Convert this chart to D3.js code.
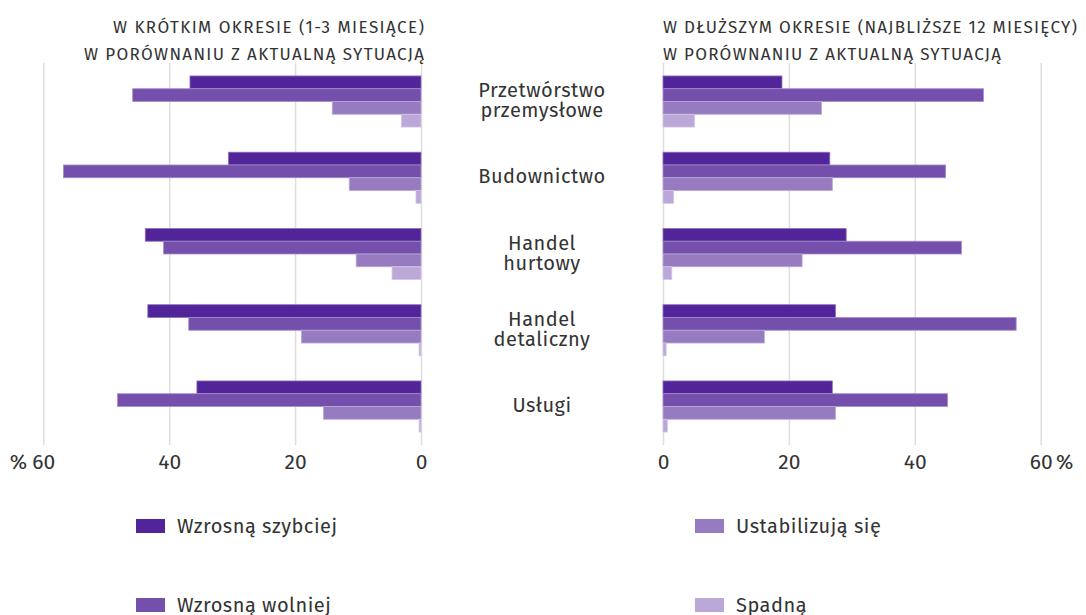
<!DOCTYPE html>
<html>
<head>
<meta charset="utf-8">
<script src="https://cdn.jsdelivr.net/npm/d3@7"></script>
<style>
  body { margin: 0; background: #fff; }
  svg text { font-family: "Fira Sans", "Open Sans", sans-serif; fill: #333; }
</style>
</head>
<body>
<div id="chart"></div>
<script>
// categories (two-line labels split with \n)
const categories = ["Przetwórstwo\nprzemysłowe", "Budownictwo", "Handel\nhurtowy", "Handel\ndetaliczny", "Usługi"];
const seriesNames = ["Wzrosną szybciej", "Wzrosną wolniej", "Ustabilizują się", "Spadną"];

// short term (1-3 months), %
const shortFaster = [36.7, 30.6, 43.8, 43.4, 35.6];
const shortSlower = [45.8, 56.8, 40.9, 36.9, 48.2];
const shortStable = [14.1, 11.4, 10.3, 19.0, 15.5];
const shortFall   = [3.1, 0.8, 4.6, 0.3, 0.3];

// longer term (next 12 months), %
const longFaster = [18.9, 26.5, 29.1, 27.4, 26.9];
const longSlower = [50.9, 44.9, 47.4, 56.1, 45.2];
const longStable = [25.2, 26.9, 22.1, 16.1, 27.4];
const longFall   = [5.0, 1.7, 1.4, 0.5, 0.7];

const tickValues = [0, 20, 40, 60];
const colors = ["#51249a", "#7450ac", "#967bc0", "#bca8d8"];

const width = 1086;
const height = 615;

const svg = d3.select("#chart").append("svg")
  .attr("width", width)
  .attr("height", height);

const xLeft = d3.scaleLinear().domain([0, 60]).range([421, 43.3]);
const xRight = d3.scaleLinear().domain([0, 60]).range([663, 1040.7]);

const y = d3.scaleBand()
  .domain(categories)
  .range([63, 445])
  .paddingInner(0.33)
  .paddingOuter(0.17);

const ySub = d3.scaleBand()
  .domain(d3.range(seriesNames.length))
  .range([0, y.bandwidth()]);

// gridlines + tick labels
function drawAxis(scale) {
  const g = svg.append("g")
    .attr("transform", "translate(0,445)")
    .call(d3.axisBottom(scale).tickValues(tickValues).tickSize(-(445 - 63)).tickPadding(9));
  g.select(".domain").remove();
  g.selectAll(".tick line").attr("stroke", "#dedede").attr("stroke-width", 1.5);
  g.selectAll(".tick text")
    .style("font-size", "21px")
    .attr("fill", "#333");
  return g;
}
drawAxis(xLeft);
drawAxis(xRight);

svg.append("text")
  .attr("x", 27).attr("y", 469)
  .attr("text-anchor", "end")
  .style("font-size", "21px")
  .text("%");
svg.append("text")
  .attr("x", 1056).attr("y", 469)
  .style("font-size", "21px")
  .text("%");

function drawBars(scale, series) {
  const g = svg.append("g");
  series.forEach((vals, si) => {
    g.selectAll(null)
      .data(vals)
      .enter()
      .append("rect")
        .attr("x", d => Math.min(scale(0), scale(d)))
        .attr("y", (d, i) => y(categories[i]) + ySub(si))
        .attr("width", d => Math.abs(scale(d) - scale(0)))
        .attr("height", ySub.bandwidth())
        .attr("fill", colors[si])
        .attr("stroke", d3.interpolateRgb(colors[si], "#fff")(0.35))
        .attr("stroke-width", 0.8);
  });
}
drawBars(xLeft, [shortFaster, shortSlower, shortStable, shortFall]);
drawBars(xRight, [longFaster, longSlower, longStable, longFall]);

// category labels in the middle
categories.forEach(c => {
  const lines = c.split("\n");
  const cy = y(c) + y.bandwidth() / 2;
  const t = svg.append("text")
    .attr("text-anchor", "middle")
    .style("font-size", "20px")
    .style("letter-spacing", "0.5px");
  lines.forEach((l, i) => {
    t.append("tspan")
      .attr("x", 542)
      .attr("y", cy + 5.5 - (lines.length - 1) * 10 + i * 20)
      .text(l);
  });
});

// panel titles (widths)
const leftTitle = ["W KRÓTKIM OKRESIE (1-3 MIESIĄCE)", "W PORÓWNANIU Z AKTUALNĄ SYTUACJĄ"];
const leftTitleWidth = [311, 340];
const rightTitle = ["W DŁUŻSZYM OKRESIE (NAJBLIŻSZE 12 MIESIĘCY)", "W PORÓWNANIU Z AKTUALNĄ SYTUACJĄ"];
const rightTitleWidth = [414, 338];
leftTitle.forEach((l, i) => {
  svg.append("text")
    .attr("x", 424).attr("y", 33 + i * 26.5)
    .attr("text-anchor", "end")
    .attr("textLength", leftTitleWidth[i])
    .attr("lengthAdjust", "spacing")
    .style("font-size", "17px")
    .text(l);
});
rightTitle.forEach((l, i) => {
  svg.append("text")
    .attr("x", 663).attr("y", 33 + i * 26.5)
    .attr("textLength", rightTitleWidth[i])
    .attr("lengthAdjust", "spacing")
    .style("font-size", "17px")
    .text(l);
});

// legend 2x2
const legendPos = [[136, 519], [136, 598], [695, 519], [695, 598]];
seriesNames.forEach((name, i) => {
  const g = svg.append("g").attr("transform", "translate(" + legendPos[i][0] + "," + legendPos[i][1] + ")");
  g.append("rect")
    .attr("width", 29).attr("height", 14)
    .attr("fill", colors[i]);
  g.append("text")
    .attr("x", 41).attr("y", 13.5)
    .style("font-size", "20px")
    .style("letter-spacing", "0.5px")
    .text(name);
});
</script>
</body>
</html>
